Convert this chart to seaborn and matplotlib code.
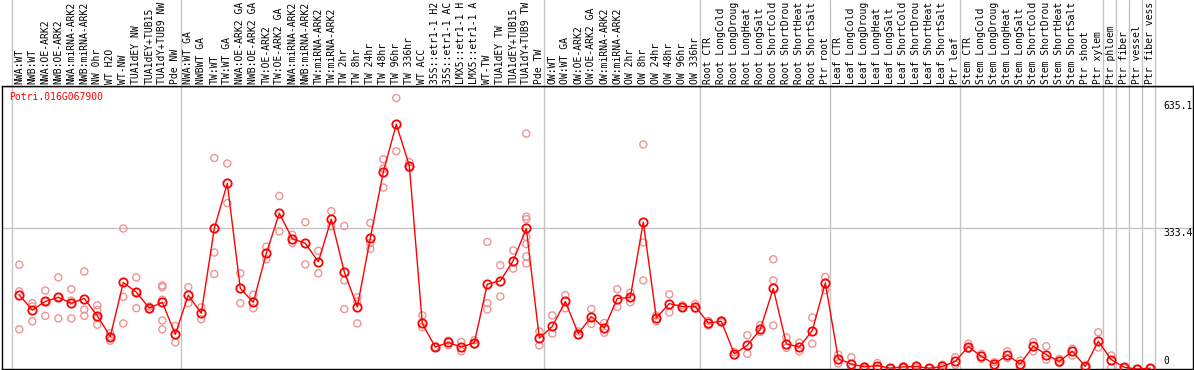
import numpy as np
import pandas as pd
import matplotlib
matplotlib.use("Agg")
import matplotlib.pyplot as plt
import seaborn as sns

sns.set_style("white")
plt.rcParams['font.family'] = ['DejaVu Sans Mono']

# sample labels, in display order
labels = [
    "NWA:WT", "NWB:WT", "NWA:OE-ARK2", "NWB:OE-ARK2", "NWA:miRNA-ARK2", "NWB:miRNA-ARK2",
    "NW 0hr", "WT H2O", "WT-NW", "TUA1dEY NW", "TUA1dEY+TUB15 NW", "TUA1dY+TUB9 NW", "Pde NW",
    "NWA:WT GA", "NWBWT GA", "TW:WT", "TW:WT GA", "NWA:OE-ARK2 GA", "NWB:OE-ARK2 GA",
    "TW:OE-ARK2", "TW:OE-ARK2 GA", "NWA:miRNA-ARK2 GA", "NWB:miRNA-ARK2 GA", "TW:miRNA-ARK2",
    "TW:miRNA-ARK2", "TW 2hr", "TW 8hr", "TW 24hr", "TW 48hr", "TW 96hr", "TW 336hr", "WT ACC",
    "35S::etr1-1 H2O", "35S::etr1-1 ACC", "LMX5::etr1-1 H2O", "LMX5::etr1-1 ACC", "WT-TW",
    "TUA1dEY TW", "TUA1dEY+TUB15 TW", "TUA1dY+TUB9 TW", "Pde TW",
    "OW:WT", "OW:WT GA", "OW:OE-ARK2", "OW:OE-ARK2 GA", "OW:miRNA-ARK2", "OW:miRNA-ARK2",
    "OW 2hr", "OW 8hr", "OW 24hr", "OW 48hr", "OW 96hr", "OW 336hr",
    "Root CTR", "Root LongCold", "Root LongDrought", "Root LongHeat", "Root LongSalt",
    "Root ShortCold", "Root ShortDrought", "Root ShortHeat", "Root ShortSalt", "Ptr root",
    "Leaf CTR", "Leaf LongCold", "Leaf LongDrought", "Leaf LongHeat", "Leaf LongSalt",
    "Leaf ShortCold", "Leaf ShortDrought", "Leaf ShortHeat", "Leaf ShortSalt", "Ptr leaf",
    "Stem CTR", "Stem LongCold", "Stem LongDrought", "Stem LongHeat", "Stem LongSalt",
    "Stem ShortCold", "Stem ShortDrought", "Stem ShortHeat", "Stem ShortSalt", "Ptr shoot",
    "Ptr xylem", "Ptr phloem", "Ptr fiber", "Ptr vessel", "Ptr fiber vessel",
]

# mean expression per sample
means = [
    175, 140, 160, 170, 156, 167, 126, 77, 205, 182, 144, 158, 82,
    175, 132, 333, 440, 191, 158, 274, 369, 309, 298, 254, 355, 230, 147, 310, 467, 580,
    482, 108, 52, 63, 52, 62, 201, 209, 257, 333, 73,
    101, 160, 84, 124, 97, 167, 170, 348, 121, 155, 148, 148,
    109, 113, 36, 56, 94, 191, 60, 52, 91, 204,
    24, 12, 5, 8, 2, 5, 6, 2, 6, 18,
    53, 30, 12, 33, 12, 54, 34, 18, 42, 6,
    66, 22, 4, 0, 2,
]

# replicate values per sample
reps = [
    [247, 184, 94], [156, 148, 113], [186, 160, 126], [217, 170, 120], [189, 162, 120],
    [231, 141, 126], [151, 140, 121, 105], [85, 77, 67], [333, 171, 108], [217, 182, 144],
    [148, 141], [198, 194, 164, 115, 94], [102, 63],
    [194, 156], [146, 118], [500, 276, 225], [487, 393], [227, 156], [176, 144], [290, 260],
    [410, 326], [318, 299], [348, 248], [280, 227], [374, 338], [339, 210, 142],
    [170, 160, 108], [346, 299, 285], [497, 475, 430], [642, 516], [490, 476], [127, 99],
    [52, 52], [67, 56], [64, 42], [68, 58], [301, 156, 141], [246, 172], [281, 238],
    [558, 361, 355, 313, 296, 267, 250], [89, 56],
    [127, 84], [175, 144], [89, 80], [142, 107], [109, 86], [189, 147], [181, 158],
    [532, 300, 210], [127, 113], [177, 134], [151, 146], [154, 143],
    [114, 103], [115, 111], [40, 32], [80, 36], [104, 88], [260, 210, 103], [75, 50],
    [62, 42], [122, 60], [218, 187],
    [34, 13], [28, 2], [6, 2], [14, 2], [2, 2], [6, 3], [8, 2], [2, 1], [10, 2], [28, 10],
    [60, 48], [36, 24], [16, 6], [42, 26], [20, 2], [64, 42], [54, 22], [24, 14], [48, 32],
    [6, 6], [87, 51], [32, 4], [4, 2], [0, 0], [2, 2],
]

# last sample index of each group (separator drawn after it)
group_ends = [-1, 12, 40, 52, 62, 72, 83, 84, 85, 86, 87]
gene = "Potri.016G067900"
ytick_vals = [635.1, 333.4]
max_chars = 14  # header labels are cut to this length

W, H = 1194, 370
fig = plt.figure(figsize=(W / 100, H / 100), dpi=100)
top = 86
ax = fig.add_axes([2 / W, 1 - 369 / H, 1191 / W, (369 - top) / H])
hdr = fig.add_axes([2 / W, 1 - top / H, 1191 / W, top / H])

x0 = (2 - 19.3) / 13
x1 = (1193 - 19.3) / 13
ymax = (369 - top) / 0.422

mean_df = pd.DataFrame({"x": np.arange(len(labels)), "value": means})
rep_df = pd.DataFrame([(i, v) for i, vals in enumerate(reps) for v in vals],
                      columns=["x", "value"])

grid_c = "#c4c4c4"
for g in group_ends:
    ax.axvline(g + 0.4, color=grid_c, lw=1, zorder=0)
    hdr.axvline(g + 0.4, color=grid_c, lw=1, zorder=0)
ax.axhline(333.4, color=grid_c, lw=1, zorder=0)

sns.scatterplot(data=rep_df, x="x", y="value", ax=ax, marker="o", s=26,
                facecolors="none", edgecolor="#ee9494", linewidth=1.0, zorder=2)
sns.lineplot(data=mean_df, x="x", y="value", ax=ax, color="red", lw=1,
             marker="o", markersize=6, markerfacecolor="none",
             markeredgecolor="red", markeredgewidth=1.3, zorder=3)

ax.set_xlim(x0, x1)
ax.set_ylim(0, ymax)
ax.set_xticks([])
ax.set_yticks([])
ax.set_xlabel("")
ax.set_ylabel("")
for sp in ax.spines.values():
    sp.set_color("black")
    sp.set_linewidth(1)

# right side value labels, drawn inside the frame
xt = 1163 / W
for v in ytick_vals:
    y_fig = 1 - (369 - 0.422 * v) / H
    fig.text(xt, y_fig, f"{v:.1f}", fontsize=7.0, va="top", ha="left", color="black")
fig.text(xt, 1 - 366 / H, "0", fontsize=7.0, va="bottom", ha="left", color="black")

fig.text(9 / W, 1 - 97 / H, gene, fontsize=7.0, color="red", va="center", ha="left")

# rotated sample labels in the header strip
hdr.set_xlim(x0, x1)
hdr.set_ylim(top, 0)
hdr.set_xticks([])
hdr.set_yticks([])
for name in ["left", "right", "top"]:
    hdr.spines[name].set_visible(False)
hdr.spines["bottom"].set_color("black")
hdr.spines["bottom"].set_linewidth(1)
for i, lab in enumerate(labels):
    hdr.text(i, 83.5, lab[:max_chars].rstrip(), rotation=90, fontsize=7.0,
             ha="center", va="bottom", color="black")

fig.savefig("out.png", dpi=100)
